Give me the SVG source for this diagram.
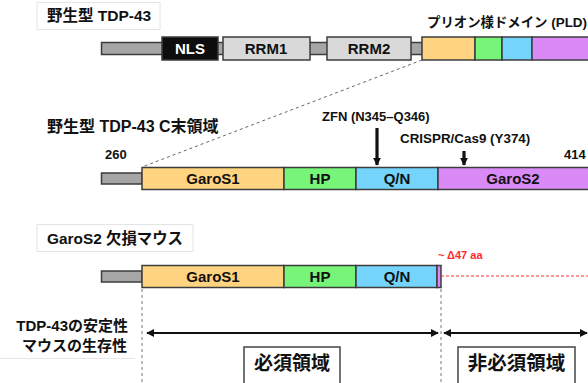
<svg xmlns="http://www.w3.org/2000/svg" width="588" height="383" viewBox="0 0 588 383">
<style>
text{font-family:"Liberation Sans","Noto Sans CJK JP",sans-serif;font-weight:bold;fill:#111}
.seg{stroke:#3c3c3c;stroke-width:1.5}
.linker{fill:#a6a6a6;stroke:#3c3c3c;stroke-width:1.5}
.y{fill:#ffd480}.g{fill:#76f578}.b{fill:#74d4fb}.p{fill:#d98af6}
.rrm{fill:#d9d9d9}
.lbl{font-size:15px;text-anchor:middle}
.tag{fill:#fff;stroke:#e4e4e4;stroke-width:1}
.vd{stroke:#777;stroke-width:1;stroke-dasharray:3,3;fill:none}
</style>
<defs>
<marker id="ah" viewBox="0 0 10 10" refX="9" refY="5" markerWidth="4.5" markerHeight="4.5" orient="auto-start-reverse">
<path d="M0,0 L10,5 L0,10 Z" fill="#111"/>
</marker>
<marker id="dn" viewBox="0 0 10 10" refX="9" refY="5" markerUnits="userSpaceOnUse" markerWidth="8" markerHeight="10" orient="auto">
<path d="M0,0 L10,5 L0,10 Z" fill="#111"/>
</marker>
</defs>

<!-- Wild-type TDP-43 -->
<g id="wt-title">
<rect class="tag" x="37" y="2.5" width="123" height="27"/>
<text x="47" y="21" font-size="15.5">野生型 TDP-43</text>
</g>
<g id="wt-bar">
<rect class="linker" x="101.5" y="42.5" width="321" height="12"/>
<rect class="seg" x="162" y="37" width="56" height="23" fill="#0d0d0d"/>
<text class="lbl" x="190" y="54" style="fill:#fff">NLS</text>
<rect class="seg rrm" x="223" y="37" width="87" height="23"/>
<text class="lbl" x="266" y="54">RRM1</text>
<rect class="seg rrm" x="327" y="37" width="84" height="23"/>
<text class="lbl" x="369" y="54">RRM2</text>
<rect class="seg y" x="422" y="37" width="53" height="23"/>
<rect class="seg g" x="475" y="37" width="27" height="23"/>
<rect class="seg b" x="502" y="37" width="30" height="23"/>
<rect class="seg p" x="532" y="37" width="58" height="23"/>
</g>
<g id="pld-label">
<text x="427" y="27" font-size="13.4">プリオン様ドメイン (PLD)</text>
</g>

<!-- C-terminal region -->
<g id="ct-title">
<text x="47" y="132" font-size="16">野生型 TDP-43 C末領域</text>
</g>
<g id="ct-bar">
<rect class="linker" x="101.5" y="173" width="40.5" height="11"/>
<rect class="seg y" x="142" y="167.5" width="142" height="22"/>
<text class="lbl" x="213" y="184">GaroS1</text>
<rect class="seg g" x="284" y="167.5" width="72" height="22"/>
<text class="lbl" x="320" y="184">HP</text>
<rect class="seg b" x="356" y="167.5" width="82" height="22"/>
<text class="lbl" x="397" y="184">Q/N</text>
<rect class="seg p" x="438" y="167.5" width="152" height="22"/>
<text class="lbl" x="513" y="184">GaroS2</text>
<text x="105" y="159" font-size="13">260</text>
<text x="564" y="159" font-size="13">414</text>
</g>
<g id="zfn">
<text x="322" y="121" font-size="13">ZFN (N345–Q346)</text>
</g>
<g id="crispr">
<text x="400" y="143" font-size="13.4">CRISPR/Cas9 (Y374)</text>
</g>

<!-- Deletion mouse -->
<g id="del-title">
<rect class="tag" x="37" y="224.5" width="156" height="27"/>
<text x="47" y="244" font-size="15.4">GaroS2 欠損マウス</text>
</g>
<g id="del-bar">
<rect class="linker" x="101.5" y="271" width="40.5" height="11"/>
<rect class="seg y" x="142" y="265.5" width="142" height="22"/>
<text class="lbl" x="213" y="282">GaroS1</text>
<rect class="seg g" x="284" y="265.5" width="72" height="22"/>
<text class="lbl" x="320" y="282">HP</text>
<rect class="seg b" x="356" y="265.5" width="81" height="22"/>
<text class="lbl" x="397" y="282">Q/N</text>
<rect class="seg p" x="437" y="265.5" width="4" height="22"/>
<text x="438" y="259" font-size="11" style="fill:#ff2a2a">~ Δ47 aa</text>
</g>

<!-- Bottom annotation -->
<g id="row-label">
<text x="128" y="331" font-size="15" text-anchor="end">TDP-43の安定性</text>
<text x="127" y="351" font-size="15" text-anchor="end">マウスの生存性</text>
<line x1="0" y1="358.5" x2="135" y2="358.5" stroke="#e6e6e6" stroke-width="1"/>
</g>
<g id="essential">
<rect x="244" y="347" width="96" height="44" fill="#fff" stroke="#444" stroke-width="1.5"/>
<text x="292" y="370" font-size="19" text-anchor="middle">必須領域</text>
</g>
<g id="nonessential">
<rect x="458" y="347" width="117" height="44" fill="#fff" stroke="#444" stroke-width="1.5"/>
<text x="516.5" y="370" font-size="19.5" text-anchor="middle">非必須領域</text>
</g>

<!-- Connectors -->
<g id="connectors">
<line x1="422" y1="60" x2="142" y2="167" stroke="#666" stroke-width="1" stroke-dasharray="3,3"/>
<line x1="377" y1="128" x2="377" y2="165" stroke="#111" stroke-width="3.2" marker-end="url(#dn)"/>
<line x1="464" y1="151" x2="464" y2="165" stroke="#111" stroke-width="3.2" marker-end="url(#dn)"/>
<line x1="441" y1="276" x2="588" y2="276" stroke="#ff3030" stroke-width="1" stroke-dasharray="3,2"/>
<line class="vd" x1="142" y1="289" x2="142" y2="383"/>
<line class="vd" x1="441" y1="289" x2="441" y2="383"/>
<line x1="147" y1="333" x2="438" y2="333" stroke="#111" stroke-width="1.8" marker-start="url(#ah)" marker-end="url(#ah)"/>
<line x1="444" y1="333" x2="587" y2="333" stroke="#111" stroke-width="1.8" marker-start="url(#ah)" marker-end="url(#ah)"/>
</g>
</svg>
